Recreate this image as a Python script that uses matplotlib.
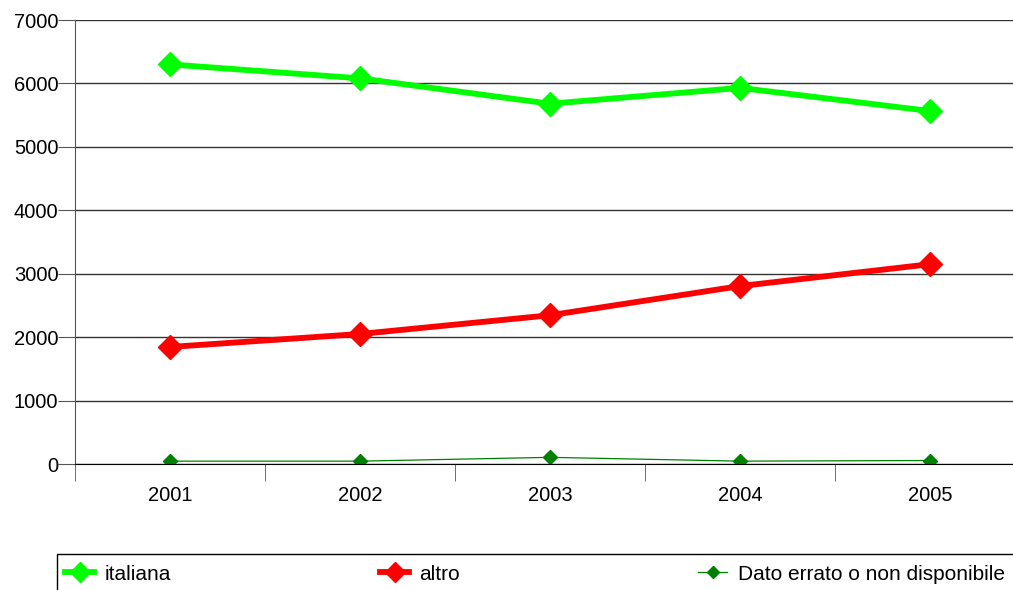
import numpy as np
import matplotlib.pyplot as plt
from matplotlib.patches import Rectangle

plt.rcParams['font.family'] = ['Liberation Sans', 'DejaVu Sans']

anni = ['2001', '2002', '2003', '2004', '2005']
italiana = [6300, 6080, 5680, 5930, 5565]
altro = [1845, 2050, 2345, 2805, 3150]
dato_errato = [45, 45, 105, 45, 55]

fig = plt.figure(figsize=(10.13, 5.9), dpi=100)
ax = fig.add_axes([75/1013, 126/590, 950/1013, 444/590])

x = np.arange(len(anni))
ax.plot(x, italiana, color='#00ff00', lw=4.2, marker='D', ms=12, label='italiana')
ax.plot(x, altro, color='#ff0000', lw=4.2, marker='D', ms=12, label='altro')
ax.plot(x, dato_errato, color='#008000', lw=0.9, marker='D', ms=7.5,
        label='Dato errato o non disponibile')

ax.set_ylim(0, 7000)
ax.set_xlim(-0.5, len(anni) - 0.5)
ax.set_yticks(range(0, 7001, 1000))
ax.yaxis.grid(True, color='#333333', lw=1)
ax.set_axisbelow(True)
ax.set_xticks(x)
ax.set_xticklabels(anni)
ax.set_xticks(np.arange(-0.5, len(anni), 1), minor=True)
ax.tick_params(axis='x', which='major', length=0, pad=16, labelsize=14.5)
ax.tick_params(axis='x', which='minor', length=12, color='#555555', direction='out')
ax.tick_params(axis='y', length=12, color='#555555', labelsize=14.5, pad=0)
for s in ['top', 'right']:
    ax.spines[s].set_visible(False)
ax.spines['left'].set_color('#555555')
ax.spines['bottom'].set_color('#000000')

# legend box, one entry per column
fig.add_artist(Rectangle((57/1013, -0.01), 1.0, 36/590 + 0.01, transform=fig.transFigure,
                         fill=False, ec='#000000', lw=1))
handles, labels = ax.get_legend_handles_labels()
for h, l, x0 in zip(handles, labels, [65, 380, 698]):
    fig.legend([h], [l], loc='center left', bbox_to_anchor=(x0/1013, 16/590),
               frameon=False, fontsize=15, handlelength=1.4, handletextpad=0.5,
               borderpad=0, borderaxespad=0, markerscale=0.85)

fig.savefig('out.png', dpi=100)
